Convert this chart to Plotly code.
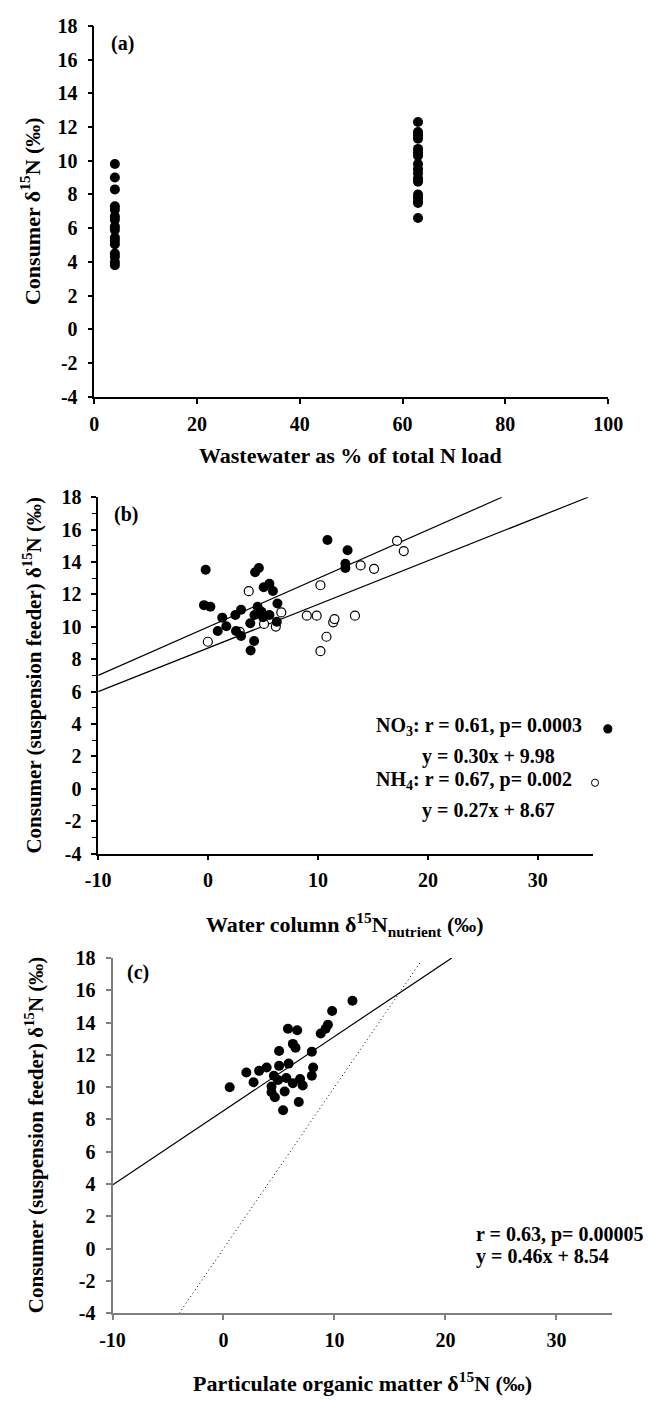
import plotly.graph_objects as go

W, H = 648, 1407

# ---------------- data ----------------
# Panel (a): consumer d15N vs wastewater % of N load
a_x_low = [4, 4, 4, 4, 4, 4, 4, 4, 4, 4, 4, 4, 4, 4, 4, 4]
a_y_low = [9.8, 9.0, 8.3, 7.3, 7.1, 6.7, 6.5, 6.1, 5.9, 5.45, 5.25, 5.05, 4.5, 4.3, 4.0, 3.8]
a_x_high = [63, 63, 63, 63, 63, 63, 63, 63, 63, 63, 63, 63, 63, 63, 63, 63, 63]
a_y_high = [12.3, 11.7, 11.5, 11.3, 10.7, 10.5, 10.3, 9.8, 9.5, 9.25, 8.96, 8.76, 8.0, 7.8, 7.6, 7.5, 6.6]

# Panel (b): consumer d15N vs water column d15N (NO3 filled, NH4 open)
b_no3_x = [-0.22, -0.37, 0.21, 1.29, 0.88, 1.66, 2.48, 3.0, 2.54, 3.0, 3.84, 3.87, 4.19, 4.22,
           4.28, 4.62, 4.51, 4.86, 5.06, 5.58, 5.9, 5.0, 5.58, 6.25, 6.31, 10.86, 12.69, 12.49, 12.49]
b_no3_y = [13.53, 11.34, 11.24, 10.57, 9.74, 10.04, 10.73, 11.06, 9.74, 9.43, 10.22, 8.54, 9.13, 10.73,
           13.37, 13.63, 11.24, 10.93, 12.44, 12.66, 12.21, 10.59, 10.73, 10.32, 11.44, 15.36, 14.73, 13.9, 13.63]
b_nh4_x = [-0.02, 2.88, 3.7, 5.09, 6.16, 6.66, 8.98, 9.88, 10.22, 10.22, 10.77, 11.38, 11.5,
           13.36, 13.88, 15.1, 17.19, 17.8]
b_nh4_y = [9.08, 9.69, 12.2, 10.18, 10.02, 10.89, 10.69, 10.69, 12.57, 8.5, 9.39, 10.28, 10.48,
           10.69, 13.79, 13.58, 15.31, 14.68]
b_fit_no3_x = [-10, 26.73]
b_fit_no3_y = [7.0, 18.0]
b_fit_nh4_x = [-10, 34.56]
b_fit_nh4_y = [6.0, 18.0]

# Panel (c): consumer d15N vs POM d15N
c_x = [0.56, 2.06, 2.71, 3.21, 3.89, 4.33, 4.33, 4.63, 4.54, 5.01, 5.01, 4.92, 5.37, 5.51, 5.66, 5.87,
       5.81, 6.25, 6.49, 6.25, 6.64, 6.78, 6.90, 7.14, 7.96, 8.08, 7.96, 8.76, 9.20, 9.41, 9.79, 11.62]
c_y = [10.0, 10.91, 10.30, 11.01, 11.22, 10.04, 9.69, 9.38, 10.71, 12.24, 11.32, 10.44, 8.57, 9.73, 10.57, 11.46,
       13.62, 12.68, 12.44, 10.24, 13.52, 9.08, 10.51, 10.10, 12.2, 11.22, 10.71, 13.32, 13.62, 13.87, 14.72, 15.35]
c_fit_x = [-10, 20.57]
c_fit_y = [3.94, 18.0]
c_one_x = [-4, 17.8]
c_one_y = [-4, 17.8]

y_ticks = [-4, -2, 0, 2, 4, 6, 8, 10, 12, 14, 16, 18]
a_x_ticks = [0, 20, 40, 60, 80, 100]
bc_x_ticks = [-10, 0, 10, 20, 30]

# ---------------- layout helpers ----------------
FONT = "Liberation Serif"


def xdom(l, r):
    return [l / W, r / W]


def ydom(top, bottom):
    return [1 - bottom / H, 1 - top / H]


def px(x):
    return x / W


def py(y):
    return 1 - y / H


def labels(vals):
    return ["<b>%d</b>" % v for v in vals]


tickfont = dict(family=FONT, size=20, color="black")


def axis(color, lw, vals, **kw):
    d = dict(showgrid=False, zeroline=False, showline=True, linecolor=color, linewidth=lw,
             ticks="outside", ticklen=5, tickwidth=lw, tickcolor=color, tickfont=tickfont,
             tickmode="array", tickvals=vals, ticktext=labels(vals), fixedrange=True)
    d.update(kw)
    return d


fig = go.Figure()

dot = dict(color="black", size=10, line=dict(width=0))
ring = dict(color="white", size=9, line=dict(color="black", width=1.2))

# panel a
fig.add_trace(go.Scatter(x=a_x_low, y=a_y_low, mode="markers", marker=dot, xaxis="x", yaxis="y"))
fig.add_trace(go.Scatter(x=a_x_high, y=a_y_high, mode="markers", marker=dot, xaxis="x", yaxis="y"))

# panel b
fig.add_trace(go.Scatter(x=b_fit_no3_x, y=b_fit_no3_y, mode="lines", line=dict(color="black", width=1.2),
                         xaxis="x2", yaxis="y2"))
fig.add_trace(go.Scatter(x=b_fit_nh4_x, y=b_fit_nh4_y, mode="lines", line=dict(color="black", width=1.2),
                         xaxis="x2", yaxis="y2"))
fig.add_trace(go.Scatter(x=b_nh4_x, y=b_nh4_y, mode="markers", marker=ring, xaxis="x2", yaxis="y2"))
fig.add_trace(go.Scatter(x=b_no3_x, y=b_no3_y, mode="markers", marker=dot, xaxis="x2", yaxis="y2"))

# panel c
fig.add_trace(go.Scatter(x=c_one_x, y=c_one_y, mode="lines", line=dict(color="black", width=1, dash="1px,3px"),
                         xaxis="x3", yaxis="y3"))
fig.add_trace(go.Scatter(x=c_fit_x, y=c_fit_y, mode="lines", line=dict(color="black", width=1.2),
                         xaxis="x3", yaxis="y3"))
fig.add_trace(go.Scatter(x=c_x, y=c_y, mode="markers", marker=dot, xaxis="x3", yaxis="y3"))

fig.update_layout(
    width=W, height=H, margin=dict(l=0, r=0, t=0, b=0),
    paper_bgcolor="white", plot_bgcolor="white", showlegend=False,
    xaxis=axis("black", 1.5, a_x_ticks, domain=xdom(85, 622), range=[0, 100],
               anchor="y", ticklabelstandoff=3),
    yaxis=axis("black", 1.5, y_ticks, domain=ydom(15, 392), range=[-4, 18],
               anchor="x", ticklabelstandoff=6),
    xaxis2=axis("black", 1.5, bc_x_ticks, domain=xdom(89, 606), range=[-10, 35],
                anchor="y2", ticklabelstandoff=3),
    yaxis2=axis("black", 1.5, y_ticks, domain=ydom(494, 856), range=[-4, 18],
                anchor="x2", ticklabelstandoff=6,
                minor=dict(dtick=1, tick0=0, ticks="outside", ticklen=4, tickcolor="black", tickwidth=1.2)),
    xaxis3=axis("#7f7f7f", 2, bc_x_ticks, domain=xdom(104, 626), range=[-10, 35],
                anchor="y3", ticklabelstandoff=3),
    yaxis3=axis("#7f7f7f", 2, y_ticks, domain=ydom(962, 1323), range=[-4, 18],
                anchor="x3", ticklabelstandoff=6),
)

# legend keys for panel b (drawn as small circles beside the statistics text)
shapes = []


def key(cx, cy, r, fill):
    shapes.append(dict(type="circle", xref="paper", yref="paper",
                       x0=px(cx - r), x1=px(cx + r), y0=py(cy + r), y1=py(cy - r),
                       fillcolor=fill, line=dict(color="black", width=1)))


key(621.7, 729.3, 4.2, "black")
key(608.3, 784.0, 3.7, "white")

ann = []


def text(x, y, s, size=20, xanchor="left", angle=0):
    ann.append(dict(x=px(x), y=py(y), xref="paper", yref="paper", text=s, showarrow=False,
                    xanchor=xanchor, yanchor="middle", textangle=angle,
                    font=dict(family=FONT, size=size, color="black")))


# panel labels
text(100, 33, "<b>(a)</b>")
text(103, 512, "<b>(b)</b>")
text(117, 977, "<b>(c)</b>")

# axis titles
text(353, 452, "<b>Wastewater as % of total N load</b>", size=22, xanchor="center")
text(18, 203, "<b>Consumer δ<sup>15</sup>N (‰)</b>", size=22, xanchor="center", angle=-90)
text(347, 928, "<b>Water column δ<sup>15</sup>N<sub>nutrient</sub> (‰)</b>", size=22, xanchor="center")
text(20, 675, "<b>Consumer (suspension feeder) δ<sup>15</sup>N (‰)</b>", size=21, xanchor="center", angle=-90)
text(365, 1393, "<b>Particulate organic matter δ<sup>15</sup>N (‰)</b>", size=22, xanchor="center")
text(22, 1142, "<b>Consumer (suspension feeder) δ<sup>15</sup>N (‰)</b>", size=21, xanchor="center", angle=-90)

# statistics text
text(377, 727, "<b>NO<sub>3</sub>: r = 0.61, p= 0.0003</b>")
text(425, 757, "<b>y = 0.30x + 9.98</b>")
text(377, 782, "<b>NH<sub>4</sub>: r = 0.67, p= 0.002</b>")
text(425, 812, "<b>y = 0.27x + 8.67</b>")
text(482, 1243, "<b>r = 0.63, p= 0.00005</b>")
text(482, 1265, "<b>y = 0.46x + 8.54</b>")

fig.update_layout(annotations=ann, shapes=shapes)
fig.write_html("out.html")
